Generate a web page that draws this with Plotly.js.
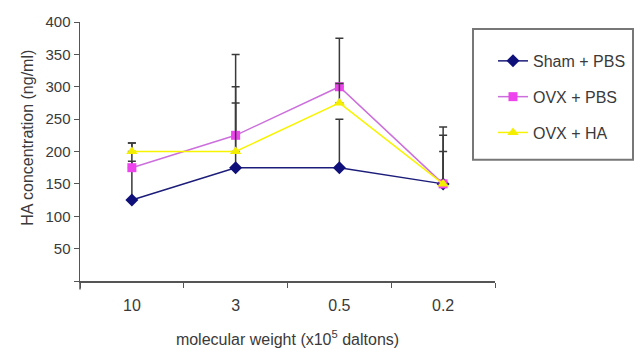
<!DOCTYPE html>
<html>
<head>
<meta charset="utf-8">
<script src="https://cdn.plot.ly/plotly-3.0.1.min.js"></script>
<style>html,body{margin:0;padding:0;background:#fff;}#chart{width:634px;height:348px;}</style>
</head>
<body>
<div id="chart"></div>
<script>
// Data
var categories = ['10', '3', '0.5', '0.2'];
var shamPBS = [125, 175, 175, 150];
var shamPBSErr = [88, 100, 75, 50];
var ovxPBS = [175, 225, 300, 150];
var ovxPBSErr = [10, 125, 75, 88];
var ovxHA = [200, 200, 275, 150];
var ovxHAErr = [13, 100, 30, 75];
var yTickVals = [0, 50, 100, 150, 200, 250, 300, 350, 400];
var yTickText = ['', '50', '100', '150', '200', '250', '300', '350', '400'];

var W = 634, H = 348;
var L = 80, R = 139, T = 22, B = 66.5;
var pw = W - L - R, ph = H - T - B;
function px(x) { return (x - L) / pw; }
function py(y) { return (H - B - y) / ph; }

var font = 'Liberation Sans, Arial, sans-serif';
var errStyle = function (arr) {
  return {type: 'data', symmetric: false, array: arr, arrayminus: arr.map(function () { return 0; }),
          color: '#3a3a3a', thickness: 1.5, width: 4};
};

var traces = [
  {x: categories, y: shamPBS, name: 'Sham + PBS', type: 'scatter', mode: 'lines+markers',
   legendgroup: 'a',
   line: {color: '#1c1c7a', width: 1.5}, marker: {symbol: 'diamond', size: 10, color: '#10107a'},
   error_y: errStyle(shamPBSErr)},
  {x: categories, y: ovxPBS, name: 'OVX + PBS', type: 'scatter', mode: 'lines+markers',
   legendgroup: 'b',
   line: {color: '#cc6fdc', width: 1.5}, marker: {symbol: 'square', size: 9, color: '#ee44ee'},
   error_y: errStyle(ovxPBSErr)},
  {x: categories, y: ovxHA, name: 'OVX + HA', type: 'scatter', mode: 'lines+markers',
   legendgroup: 'c',
   line: {color: '#f8f400', width: 1.5}, marker: {symbol: 'triangle-up', size: 10, color: '#f4ee00'},
   error_y: errStyle(ovxHAErr)}
];

var layout = {
  width: W, height: H,
  margin: {l: L, r: R, t: T, b: B, autoexpand: false},
  paper_bgcolor: '#fff', plot_bgcolor: '#fff',
  font: {family: font, size: 15, color: '#3a3a3a'},
  showlegend: true,
  legend: {x: px(493), y: py(44), xanchor: 'left', yanchor: 'top', bgcolor: 'rgba(0,0,0,0)',
           borderwidth: 0, font: {family: font, size: 16, color: '#3a3a3a'},
           traceorder: 'grouped', tracegroupgap: 12},
  xaxis: {type: 'category', range: [-0.5, 3.5], tickson: 'boundaries', ticks: 'outside', ticklen: 5,
          tickcolor: '#555', showline: true, linecolor: '#555', linewidth: 1.5, showgrid: false, zeroline: false,
          ticklabelstandoff: 9, tickfont: {size: 16, color: '#3a3a3a'},
          title: {text: 'molecular weight (x10<sup>5</sup> daltons)', font: {size: 16, color: '#3a3a3a'}, standoff: 29}},
  yaxis: {range: [0, 400], tickvals: yTickVals, ticktext: yTickText, ticks: 'outside', ticklen: 5,
          tickcolor: '#555', showline: true, linecolor: '#555', linewidth: 1.5, showgrid: false, zeroline: false,
          tickfont: {size: 15, color: '#3a3a3a'}},
  annotations: [
    {text: 'HA concentration (ng/ml)', xref: 'paper', yref: 'paper', x: px(28), y: py(138),
     xanchor: 'center', yanchor: 'middle', textangle: -90, showarrow: false,
     font: {family: font, size: 16, color: '#3a3a3a'}}
  ],
  shapes: [
    {type: 'rect', xref: 'paper', yref: 'paper', x0: px(473), x1: px(633), y0: py(160), y1: py(29),
     line: {color: '#777', width: 2}, fillcolor: 'rgba(0,0,0,0)'},
    {type: 'line', xref: 'paper', yref: 'paper', x0: 0, x1: 0, y0: 0, y1: py(290),
     line: {color: '#555', width: 1.5}}
  ]
};

Plotly.newPlot('chart', traces, layout, {displayModeBar: false, staticPlot: true});
</script>
</body>
</html>
